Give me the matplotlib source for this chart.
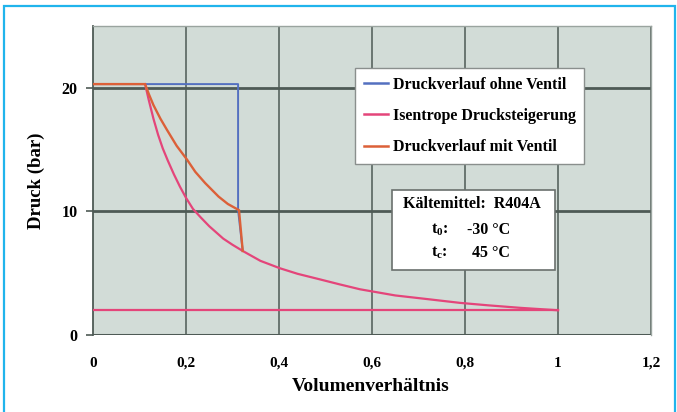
import matplotlib
matplotlib.use("Agg")
import matplotlib.pyplot as plt
from matplotlib.patches import Rectangle
from matplotlib.lines import Line2D

# ---- data ----
ohne_v = [0.0, 0.312, 0.312, 0.322]
ohne_p = [20.3, 20.3, 10.1, 6.8]

iso_v = [0.112, 0.12, 0.13, 0.14, 0.15, 0.161, 0.174, 0.187, 0.2, 0.215, 0.232, 0.25, 0.28,
         0.3, 0.322, 0.36, 0.402, 0.44, 0.488, 0.53, 0.574, 0.65, 0.72, 0.789, 0.85, 0.918, 1.0]
iso_p = [20.3, 19.0, 17.5, 16.2, 15.1, 14.1, 13.0, 12.0, 11.1, 10.2, 9.5, 8.8, 7.8,
         7.3, 6.8, 6.0, 5.4, 4.95, 4.5, 4.1, 3.7, 3.2, 2.9, 2.6, 2.4, 2.2, 2.0]

mit_v = [0.0, 0.112, 0.12, 0.13, 0.145, 0.159, 0.18, 0.202, 0.22, 0.241, 0.27, 0.29, 0.314, 0.322]
mit_p = [20.3, 20.3, 19.5, 18.6, 17.5, 16.6, 15.3, 14.2, 13.2, 12.3, 11.2, 10.6, 10.1, 6.8]

saug_v = [0.0, 1.0]
saug_p = [2.0, 2.0]

x_ticks = [0, 0.2, 0.4, 0.6, 0.8, 1.0, 1.2]
x_ticklabels = ["0", "0,2", "0,4", "0,6", "0,8", "1", "1,2"]
y_ticks = [0, 10, 20]
y_ticklabels = ["0", "10", "20"]

legend_labels = ["Druckverlauf ohne Ventil", "Isentrope Drucksteigerung", "Druckverlauf mit Ventil"]
info_title = "Kältemittel:  R404A"
info_rows = [(r"$\mathrm{t_0}$:", "-30 °C"), (r"$\mathrm{t_c}$:", "45 °C")]

# ---- style ----
plt.rcParams['font.family'] = ['Liberation Serif', 'DejaVu Serif']
plt.rcParams['font.weight'] = 'bold'
plt.rcParams['mathtext.fontset'] = 'custom'
plt.rcParams['mathtext.rm'] = 'Liberation Serif:bold'
plt.rcParams['mathtext.it'] = 'Liberation Serif:bold'

c_blue = '#5470c0'
c_pink = '#e4457a'
c_orange = '#dc6038'
c_grid = '#4e5a55'

W, H = 677, 412
fig = plt.figure(figsize=(W / 100, H / 100), dpi=100)
fig.patch.set_facecolor('white')

# outer cyan frame
fig.add_artist(Rectangle((4 / W, -0.02), (675 - 4) / W, 1 - 6 / H + 0.02,
                         transform=fig.transFigure, fill=False,
                         edgecolor='#20b4ec', linewidth=1.6))

L, R, T, B = 93, 651, 26, 335
ax = fig.add_axes([L / W, 1 - B / H, (R - L) / W, (B - T) / H])
ax.set_facecolor('#d2dcd7')
ax.set_xlim(0, 1.2)
ax.set_ylim(0, 25)

for x in x_ticks[1:]:
    ax.axvline(x, color=c_grid, lw=1.1, zorder=1)
for y in y_ticks:
    ax.axhline(y, color=c_grid, lw=2.0 if y > 0 else 2.2, zorder=1)

ax.plot(ohne_v, ohne_p, color=c_blue, lw=1.4, zorder=3)
ax.plot(iso_v, iso_p, color=c_pink, lw=1.6, zorder=4)
ax.plot(mit_v, mit_p, color=c_orange, lw=1.7, zorder=5)
ax.plot(saug_v, saug_p, color=c_pink, lw=1.6, zorder=4)

ax.set_xticks(x_ticks)
ax.set_xticklabels(x_ticklabels)
ax.set_yticks(y_ticks)
ax.set_yticklabels(y_ticklabels)
ax.tick_params(axis='x', length=0, pad=23, labelsize=11)
ax.tick_params(axis='y', length=5, width=1.2, color=c_grid, pad=6, labelsize=11.5)
for lab in ax.get_xticklabels():
    lab.set_fontweight('bold')
    lab.set_va('baseline')
for lab in ax.get_yticklabels():
    lab.set_fontweight('bold')

for s in ['top', 'right']:
    ax.spines[s].set_color('#9aa49f')
    ax.spines[s].set_linewidth(1.0)
ax.spines['left'].set_color(c_grid)
ax.spines['left'].set_linewidth(1.3)
ax.spines['bottom'].set_visible(False)

ax.set_xlabel("Volumenverhältnis", fontsize=14, fontweight='bold')
ax.xaxis.label.set_va('baseline')
ax.xaxis.set_label_coords(0.498, (B - 391) / (B - T))
ax.set_ylabel("Druck (bar)", fontsize=13.5, fontweight='bold', labelpad=12)

handles = [Line2D([], [], color=c, lw=1.8) for c in (c_blue, c_pink, c_orange)]
leg = ax.legend(handles, legend_labels, loc='upper left',
                bbox_to_anchor=((355 - L) / (R - L), (B - 68) / (B - T)),
                borderaxespad=0, frameon=True, fancybox=False,
                prop={'family': 'Liberation Serif', 'weight': 'bold', 'size': 11.5},
                handlelength=1.5, handletextpad=0.3, labelspacing=0.95,
                borderpad=0.55)
leg.get_frame().set_edgecolor('#8a8f8d')
leg.get_frame().set_linewidth(1.0)
leg.get_frame().set_facecolor('white')
leg.get_frame().set_alpha(1)
leg.set_zorder(10)

# info box
bx0, bx1, by0, by1 = 392, 555, 190, 270
ax.add_patch(Rectangle(((bx0 - L) / (R - L), (B - by1) / (B - T)),
                       (bx1 - bx0) / (R - L), (by1 - by0) / (B - T),
                       transform=ax.transAxes, facecolor='white',
                       edgecolor='#6a706d', lw=1.2, zorder=10))

def ax_x(px):
    return (px - L) / (R - L)

def ax_y(py):
    return (B - py) / (B - T)

ax.text(ax_x(472), ax_y(204), info_title, transform=ax.transAxes,
        ha='center', va='center', fontsize=11.5, fontweight='bold', zorder=11)
for (lab, val), py in zip(info_rows, [230, 253]):
    ax.text(ax_x(431), ax_y(py), lab, transform=ax.transAxes,
            ha='left', va='center', fontsize=11.5, fontweight='bold', zorder=11)
    ax.text(ax_x(510), ax_y(py), val, transform=ax.transAxes,
            ha='right', va='center', fontsize=11.5, fontweight='bold', zorder=11)

fig.savefig("out.png", dpi=100, facecolor='white')
